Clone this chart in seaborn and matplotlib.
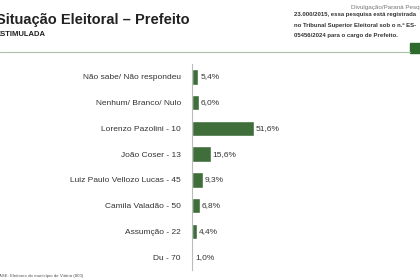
import matplotlib.pyplot as plt
import seaborn as sns
import pandas as pd

# dados da pesquisa (estimulada)
candidatos = ['Não sabe/ Não respondeu', 'Nenhum/ Branco/ Nulo', 'Lorenzo Pazolini - 10',
              'João Coser - 13', 'Luiz Paulo Vellozo Lucas - 45', 'Camila Valadão - 50',
              'Assumção - 22', 'Du - 70']
percentuais = [5.4, 6.0, 51.6, 15.6, 9.3, 6.8, 4.4, 1.0]

df = pd.DataFrame({'candidato': candidatos, 'pct': percentuais})

sns.set_style('white')
plt.rcParams['font.family'] = ['Liberation Sans', 'DejaVu Sans']

fig = plt.figure(figsize=(4.2, 2.8), dpi=100)
ax = fig.add_axes([0.457, 0.036, 0.286, 0.735])

sns.barplot(data=df, x='pct', y='candidato', orient='h', color='#3f6e3b',
            saturation=1, width=0.6, ax=ax)

# rótulos de valor ao lado das barras
for i, v in enumerate(df['pct']):
    ax.text(v + 1.5, i, f'{v:.1f}'.replace('.', ',') + '%', va='center', ha='left',
            fontsize=6, color='#333333')

ax.set_xlim(0, 100)
ax.set_ylim(len(candidatos) - 0.5, -0.5)
ax.set_xlabel('')
ax.set_ylabel('')
ax.set_xticks([])
ax.tick_params(axis='y', length=0, pad=8, labelsize=6, labelcolor='#333333')
ax.set_yticks([i + 0.5 for i in range(-1, len(candidatos))], minor=True)
ax.tick_params(axis='y', which='minor', length=2, color='#bbbbbb', width=0.6)
for lado in ['top', 'right', 'bottom']:
    ax.spines[lado].set_visible(False)
ax.spines['left'].set_color('#bbbbbb')
ax.spines['left'].set_linewidth(0.8)

# cabeçalho do slide
fig.text(-0.01, 0.93, 'Situação Eleitoral – Prefeito', fontsize=10.5, fontweight='bold',
         color='#222222', va='center', ha='left')
fig.text(-0.01, 0.875, 'ESTIMULADA', fontsize=5.5, fontweight='bold',
         color='#222222', va='center', ha='left')

fig.text(0.835, 0.972, 'Divulgação/Paraná Pesquisas', fontsize=4.5, color='#777777',
         va='center', ha='left')
fig.text(0.7, 0.948, '23.000/2015, essa pesquisa está registrada', fontsize=4.3,
         color='#333333', fontweight='bold', va='center', ha='left')
fig.text(0.7, 0.910, 'no Tribunal Superior Eleitoral sob o n.º ES-', fontsize=4.3,
         color='#333333', fontweight='bold', va='center', ha='left')
fig.text(0.7, 0.874, '05456/2024 para o cargo de Prefeito.', fontsize=4.3,
         color='#333333', fontweight='bold', va='center', ha='left')

# linha verde
fig.add_artist(plt.Line2D([0, 0.976], [0.815, 0.815], color='#a9bfa6', lw=0.8))
fig.add_artist(plt.Rectangle((0.976, 0.81), 0.03, 0.038, color='#2f6b2f'))

fig.text(-0.01, 0.016, 'BASE: Eleitores do município de Vitória (800)', fontsize=3.2,
         color='#555555', va='center', ha='left')

plt.savefig('out.png', dpi=100)
